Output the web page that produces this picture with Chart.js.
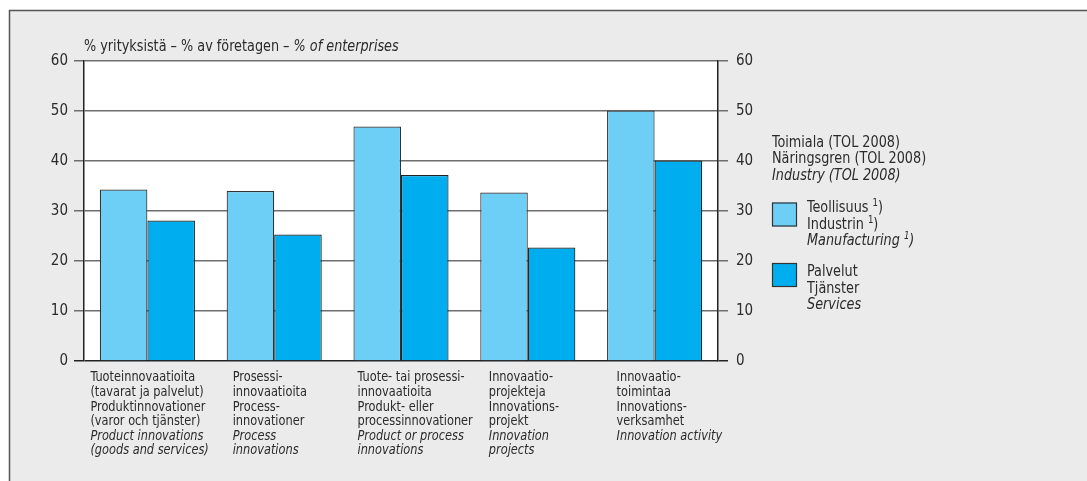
<!DOCTYPE html>
<html>
<head>
<meta charset="utf-8">
<script src="https://cdn.jsdelivr.net/npm/chart.js@4"></script>
<style>
  html, body { margin: 0; padding: 0; background: #fff; }
  #wrap { position: relative; width: 1087px; height: 481px; }
</style>
</head>
<body>
<div id="wrap"><canvas id="innovChart" width="1087" height="481"></canvas></div>
<script>
// Category labels: plain lines first, italic (English) lines after
const categoryLines = [
  ["Tuoteinnovaatioita", "(tavarat ja palvelut)", "Produktinnovationer", "(varor och tjänster)"],
  ["Prosessi-", "innovaatioita", "Process-", "innovationer"],
  ["Tuote- tai prosessi-", "innovaatioita", "Produkt- eller", "processinnovationer"],
  ["Innovaatio-", "projekteja", "Innovations-", "projekt"],
  ["Innovaatio-", "toimintaa", "Innovations-", "verksamhet"],
];
const categoryItalic = [
  ["Product innovations", "(goods and services)"],
  ["Process", "innovations"],
  ["Product or process", "innovations"],
  ["Innovation", "projects"],
  ["Innovation activity"],
];

// % of enterprises
const manufacturing = [34.3, 34.0, 46.9, 33.7, 50.1];
const services = [28.1, 25.3, 37.2, 22.7, 40.1];

const yTicks = [0, 10, 20, 30, 40, 50, 60];

const FONT = "'Liberation Sans Narrow', 'DejaVu Sans Condensed', sans-serif";
const TEXT = "#2b2b2b";
const lightBlue = "#6dcff6";
const blue = "#00aeef";
const SQUEEZE = 0.95; // horizontal squeeze to mimic the narrow original font

// label x shift from category centre (labels are left aligned)
const labelShift = [-57, -41.5, -43.5, -39, -38];

// draw narrowed text, returns its width
function txt(ctx, s, x, y) {
  ctx.save();
  ctx.translate(x, y);
  ctx.scale(SQUEEZE, 1);
  ctx.fillText(s, 0, 0);
  ctx.restore();
  return ctx.measureText(s).width * SQUEEZE;
}

const panelPlugin = {
  id: "panel",
  beforeDraw(chart) {
    const { ctx, width, height, chartArea } = chart;
    ctx.save();
    ctx.fillStyle = "#ffffff";
    ctx.fillRect(0, 0, width, height);
    ctx.fillStyle = "#ebebeb";
    ctx.fillRect(9, 10, width, height);
    ctx.strokeStyle = "#555";
    ctx.lineWidth = 1.5;
    ctx.beginPath();
    ctx.moveTo(9.5, height);
    ctx.lineTo(9.5, 10.5);
    ctx.lineTo(width, 10.5);
    ctx.stroke();
    // plot background
    ctx.fillStyle = "#ffffff";
    ctx.fillRect(chartArea.left, chartArea.top, chartArea.right - chartArea.left, chartArea.bottom - chartArea.top);
    ctx.restore();
  },
};

function drawSup(ctx, text, sup, after, x, y, italic) {
  const st = italic ? "italic " : "";
  ctx.font = st + "15px " + FONT;
  x += txt(ctx, text, x, y);
  ctx.font = st + "10px " + FONT;
  x += txt(ctx, sup, x, y - 5);
  ctx.font = st + "15px " + FONT;
  txt(ctx, after, x, y);
}

const textPlugin = {
  id: "texts",
  afterDraw(chart) {
    const { ctx, chartArea } = chart;
    const xs = chart.scales.x;
    ctx.save();
    ctx.fillStyle = TEXT;
    ctx.textBaseline = "middle";
    ctx.textAlign = "left";

    // axis unit title
    ctx.font = "15px " + FONT;
    const w1 = txt(ctx, "% yrityksistä – % av företagen – ", chartArea.left, chartArea.top - 14);
    ctx.font = "italic 15px " + FONT;
    txt(ctx, "% of enterprises", chartArea.left + w1, chartArea.top - 14);

    // category labels
    const lh = 14.6;
    categoryLines.forEach((lines, i) => {
      const x = xs.getPixelForValue(i) + labelShift[i];
      let y = chartArea.bottom + 17;
      ctx.font = "13.3px " + FONT;
      lines.forEach((l) => { txt(ctx, l, x, y); y += lh; });
      ctx.font = "italic 13.3px " + FONT;
      categoryItalic[i].forEach((l) => { txt(ctx, l, x, y); y += lh; });
    });

    // legend
    const lx = chartArea.right + 54;
    ctx.font = "15px " + FONT;
    txt(ctx, "Toimiala (TOL 2008)", lx, 143);
    txt(ctx, "Näringsgren (TOL 2008)", lx, 159.5);
    ctx.font = "italic 15px " + FONT;
    txt(ctx, "Industry (TOL 2008)", lx, 176);

    const ds = chart.data.datasets;
    const boxes = [202.5, 263];
    ds.forEach((d, i) => {
      ctx.fillStyle = d.backgroundColor;
      ctx.fillRect(lx, boxes[i], 25, 24);
      ctx.strokeStyle = "#333";
      ctx.lineWidth = 1.2;
      ctx.strokeRect(lx + 0.5, boxes[i] + 0.5, 24, 23);
    });
    ctx.fillStyle = TEXT;
    const tx = lx + 35;
    drawSup(ctx, "Teollisuus ", "1", ")", tx, 208.5, false);
    drawSup(ctx, "Industrin ", "1", ")", tx, 225, false);
    drawSup(ctx, "Manufacturing ", "1", ")", tx, 241, true);
    ctx.font = "15px " + FONT;
    txt(ctx, "Palvelut", tx, 272.5);
    txt(ctx, "Tjänster", tx, 289);
    ctx.font = "italic 15px " + FONT;
    txt(ctx, "Services", tx, 305.5);
    ctx.restore();
  },
};

const gridColor = (c) => (c.tick && c.tick.value === 0 ? "#222" : "#6e6e6e");

new Chart(document.getElementById("innovChart"), {
  type: "bar",
  data: {
    labels: categoryLines.map((l) => l[0]),
    datasets: [
      {
        label: "Teollisuus",
        data: manufacturing,
        backgroundColor: lightBlue,
        borderColor: "#333",
        borderWidth: 1.2,
        yAxisID: "y",
      },
      {
        label: "Palvelut",
        data: services,
        backgroundColor: blue,
        borderColor: "#222",
        borderWidth: 1.2,
        yAxisID: "y",
      },
    ],
  },
  options: {
    responsive: false,
    animation: false,
    devicePixelRatio: 1,
    layout: { padding: { top: 61, left: 0, right: 0, bottom: 0 } },
    datasets: {
      bar: { categoryPercentage: 0.75, barPercentage: 1.0 },
    },
    plugins: {
      legend: { display: false },
      tooltip: { enabled: false },
    },
    scales: {
      x: {
        ticks: { display: false },
        grid: { display: false },
        border: { display: false },
        afterFit(scale) { scale.height = 120; },
      },
      y: {
        position: "left",
        min: 0,
        max: 60,
        afterBuildTicks(scale) { scale.ticks = yTicks.map((v) => ({ value: v })); },
        ticks: {
          color: TEXT,
          padding: 6,
          font: { family: FONT, size: 15 },
        },
        grid: { color: gridColor, lineWidth: 1.5, tickLength: 10 },
        border: { display: true, color: "#222", width: 1.5 },
        afterFit(scale) { scale.width = 84; },
      },
      y2: {
        position: "right",
        min: 0,
        max: 60,
        afterBuildTicks(scale) { scale.ticks = yTicks.map((v) => ({ value: v })); },
        ticks: {
          color: TEXT,
          padding: 8,
          font: { family: FONT, size: 15 },
        },
        grid: { drawOnChartArea: false, color: gridColor, lineWidth: 1.5, tickLength: 10 },
        border: { display: true, color: "#222", width: 1.5 },
        afterFit(scale) { scale.width = 369; },
      },
    },
  },
  plugins: [panelPlugin, textPlugin],
});
</script>
</body>
</html>
